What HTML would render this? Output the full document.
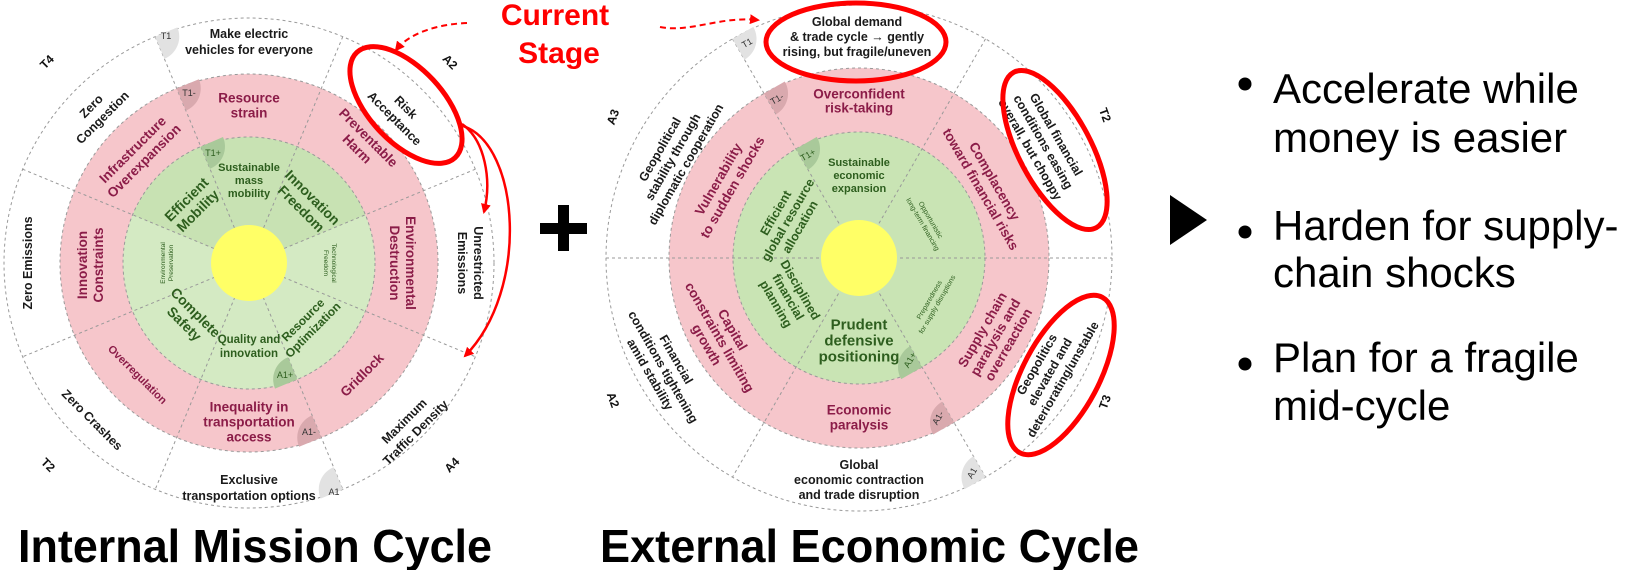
<!DOCTYPE html>
<html><head><meta charset="utf-8"><style>
html,body{margin:0;padding:0;background:#fff;}
svg{display:block;}
text{font-family:"Liberation Sans",Arial,sans-serif;}
.o{font-size:12.5px;font-weight:bold;fill:#1a1a1a;text-anchor:middle;dominant-baseline:central;}
.p{font-size:13.5px;font-weight:bold;fill:#8b1c48;text-anchor:middle;dominant-baseline:central;}
.g{font-size:11px;font-weight:bold;fill:#2d5e1e;text-anchor:middle;dominant-baseline:central;}
.gb{font-size:14px;font-weight:bold;fill:#2d5e1e;text-anchor:middle;dominant-baseline:central;}
.gt{font-size:6.5px;fill:#2d5e1e;text-anchor:middle;dominant-baseline:central;}
.b{font-size:9px;fill:#333;text-anchor:middle;dominant-baseline:central;}
.ax{font-size:12px;font-weight:bold;fill:#111;text-anchor:middle;dominant-baseline:central;}
.dl{stroke:#999;stroke-width:1;stroke-dasharray:3,3;fill:none;}
.bl{font-size:42px;fill:#000;}
</style></head><body>
<svg width="1647" height="570" viewBox="0 0 1647 570" xmlns="http://www.w3.org/2000/svg">
<defs>
<marker id="ah" markerWidth="10" markerHeight="10" refX="8" refY="5" orient="auto" markerUnits="userSpaceOnUse"><path d="M0,0 L10,5 L0,10 Z" fill="#f00"/></marker>
</defs>

<!-- ================= LEFT CIRCLE ================= -->
<circle cx="249" cy="263" r="245" fill="#fff" class="dl"/>
<circle cx="249" cy="263" r="189" fill="#f6c6cb"/>
<circle cx="249" cy="263" r="189" class="dl"/>
<circle cx="249" cy="263" r="126" fill="#d4eac3"/>
<path d="M249,263 L200.8,146.6 A126,126 0 0 1 297.2,146.6 Z" fill="#c8e2b3"/>
<path d="M249,263 L297.2,146.6 A126,126 0 0 1 365.4,214.8 Z" fill="#c8e2b3"/>
<path d="M249,263 L132.6,214.8 A126,126 0 0 1 200.8,146.6 Z" fill="#c8e2b3"/>
<circle cx="249" cy="263" r="126" class="dl"/>
<line x1="475.4" y1="169.2" x2="22.6" y2="356.8" class="dl"/>
<line x1="342.8" y1="36.6" x2="155.2" y2="489.4" class="dl"/>
<line x1="155.2" y1="36.6" x2="342.8" y2="489.4" class="dl"/>
<line x1="22.6" y1="169.2" x2="475.4" y2="356.8" class="dl"/>
<circle cx="249" cy="263" r="38" fill="#ffff66"/>

<path d="M155.2,36.6 L164.4,58.8 A24,24 0 0 0 177.4,27.4 Z" fill="#e2e2e2"/>
<path d="M176.7,88.4 L185.9,110.6 A24,24 0 0 0 198.9,79.2 Z" fill="#d9a9ae"/>
<path d="M200.8,146.6 L210,168.8 A24,24 0 0 0 223,137 Z" fill="#a9c99a"/>
<path d="M297.2,379.4 L288,357.2 A24,24 0 0 0 275,388.6 Z" fill="#a9c99a"/>
<path d="M321.3,437.6 L312.1,415.4 A24,24 0 0 0 299.1,446.8 Z" fill="#d9a9ae"/>
<path d="M342.8,489.4 L333.6,467.2 A24,24 0 0 0 320.6,498.6 Z" fill="#e2e2e2"/>
<text class="b" x="166" y="36">T1</text>
<text class="b" x="189" y="93">T1-</text>
<text class="b" x="213" y="153" style="fill:#2d5e1e">T1+</text>
<text class="b" x="285" y="375" style="fill:#2d5e1e">A1+</text>
<text class="b" x="309" y="432">A1-</text>
<text class="b" x="334" y="492">A1</text>

<text class="o" x="249" y="34">Make electric</text>
<text class="o" x="249" y="50">vehicles for everyone</text>
<text class="o" transform="translate(400,113) rotate(45)"><tspan x="0" y="-8">Risk</tspan><tspan x="0" y="8">Acceptance</tspan></text>
<text class="o" transform="translate(470,263) rotate(90)"><tspan x="0" y="-8">Unrestricted</tspan><tspan x="0" y="8">Emissions</tspan></text>
<text class="o" transform="translate(410,427) rotate(-45)"><tspan x="0" y="-8">Maximum</tspan><tspan x="0" y="8">Traffic Density</tspan></text>
<text class="o" x="249" y="480">Exclusive</text>
<text class="o" x="249" y="496">transportation options</text>
<text class="o" transform="translate(92,420) rotate(45)">Zero Crashes</text>
<text class="o" transform="translate(28,263) rotate(-90)">Zero Emissions</text>
<text class="o" transform="translate(97,112) rotate(-45)"><tspan x="0" y="-8">Zero</tspan><tspan x="0" y="8">Congestion</tspan></text>
<text class="ax" transform="translate(47,62) rotate(-45)">T4</text>
<text class="ax" transform="translate(450,62) rotate(45)">A2</text>
<text class="ax" transform="translate(48,465) rotate(45)">T2</text>
<text class="ax" transform="translate(452,465) rotate(-45)">A4</text>

<text class="p" x="249" y="98">Resource</text>
<text class="p" x="249" y="113">strain</text>
<text class="p" transform="translate(363,143) rotate(45)"><tspan x="0" y="-8">Preventable</tspan><tspan x="0" y="8">Harm</tspan></text>
<text class="p" transform="translate(403,263) rotate(90)"><tspan x="0" y="-8">Environmental</tspan><tspan x="0" y="8">Destruction</tspan></text>
<text class="p" transform="translate(362,375) rotate(-45)">Gridlock</text>
<text class="p" x="249" y="407">Inequality in</text>
<text class="p" x="249" y="422">transportation</text>
<text class="p" x="249" y="437">access</text>
<text class="p" transform="translate(137,375) rotate(45)" style="font-size:11px">Overregulation</text>
<text class="p" transform="translate(90,265) rotate(-90)"><tspan x="0" y="-8">Innovation</tspan><tspan x="0" y="8">Constraints</tspan></text>
<text class="p" transform="translate(138,155) rotate(-45)"><tspan x="0" y="-8">Infrastructure</tspan><tspan x="0" y="8">Overexpansion</tspan></text>

<text class="g" x="249" y="168">Sustainable</text>
<text class="g" x="249" y="181">mass</text>
<text class="g" x="249" y="194">mobility</text>
<text class="gb" transform="translate(307,203) rotate(45)"><tspan x="0" y="-8">Innovation</tspan><tspan x="0" y="8">Freedom</tspan></text>
<text class="gt" transform="translate(330,263) rotate(90)"><tspan x="0" y="-4">Technological</tspan><tspan x="0" y="4">Freedom</tspan></text>
<text class="g" transform="translate(308,325) rotate(-45)" style="font-size:12px"><tspan x="0" y="-7">Resource</tspan><tspan x="0" y="7">Optimization</tspan></text>
<text class="g" x="249" y="340" style="font-size:11.5px">Quality and</text>
<text class="g" x="249" y="354" style="font-size:11.5px">innovation</text>
<text class="gb" transform="translate(190,318) rotate(45)"><tspan x="0" y="-8">Complete</tspan><tspan x="0" y="8">Safety</tspan></text>
<text class="gt" transform="translate(167,263) rotate(-90)"><tspan x="0" y="-4">Environmental</tspan><tspan x="0" y="4">Preservation</tspan></text>
<text class="gb" transform="translate(192,205) rotate(-45)"><tspan x="0" y="-8">Efficient</tspan><tspan x="0" y="8">Mobility</tspan></text>

<!-- plus -->
<rect x="540" y="223" width="47" height="11" fill="#000"/>
<rect x="558" y="205" width="11" height="46" fill="#000"/>

<!-- ================= RIGHT CIRCLE ================= -->
<circle cx="859" cy="258" r="253" fill="#fff" class="dl"/>
<circle cx="859" cy="258" r="190" fill="#f6c6cb"/>
<circle cx="859" cy="258" r="190" class="dl"/>
<circle cx="859" cy="258" r="126" fill="#c9e4b4"/>
<circle cx="859" cy="258" r="126" class="dl"/>
<line x1="606" y1="258" x2="1112" y2="258" class="dl"/>
<line x1="985.5" y1="38.9" x2="732.5" y2="477.1" class="dl"/>
<line x1="732.5" y1="38.9" x2="985.5" y2="477.1" class="dl"/>
<circle cx="859" cy="258" r="38" fill="#ffff66"/>

<path d="M732.5,38.9 L744.5,59.7 A24,24 0 0 0 753.3,26.9 Z" fill="#e2e2e2"/>
<path d="M764,93.5 L776,114.3 A24,24 0 0 0 784.8,81.5 Z" fill="#d9a9ae"/>
<path d="M796,148.9 L808,169.7 A24,24 0 0 0 816.8,136.9 Z" fill="#a9c99a"/>
<path d="M922,367.1 L910,346.3 A24,24 0 0 0 901.2,379.1 Z" fill="#a9c99a"/>
<path d="M954,422.5 L942,401.7 A24,24 0 0 0 933.2,434.5 Z" fill="#d9a9ae"/>
<path d="M985.5,477.1 L973.5,456.3 A24,24 0 0 0 964.7,489.1 Z" fill="#e2e2e2"/>
<text class="b" transform="translate(747,43) rotate(-30)">T1</text>
<text class="b" transform="translate(777,99) rotate(-30)">T1-</text>
<text class="b" transform="translate(808,155) rotate(-30)" style="fill:#2d5e1e">T1+</text>
<text class="b" transform="translate(910,360) rotate(-60)" style="fill:#2d5e1e">A1+</text>
<text class="b" transform="translate(938,418) rotate(-60)">A1-</text>
<text class="b" transform="translate(972,473) rotate(-60)">A1</text>

<text class="o" x="857" y="22">Global demand</text>
<text class="o" x="857" y="37">&amp; trade cycle → gently</text>
<text class="o" x="857" y="52">rising, but fragile/uneven</text>
<text class="o" transform="translate(1043,142) rotate(60)"><tspan x="0" y="-15">Global financial</tspan><tspan x="0" y="0">conditions easing</tspan><tspan x="0" y="15">overall, but choppy</tspan></text>
<text class="o" transform="translate(1050,372) rotate(-60)"><tspan x="0" y="-15">Geopolitics</tspan><tspan x="0" y="0">elevated and</tspan><tspan x="0" y="15">deteriorating/unstable</tspan></text>
<text class="o" x="859" y="465">Global</text>
<text class="o" x="859" y="480">economic contraction</text>
<text class="o" x="859" y="495">and trade disruption</text>
<text class="o" transform="translate(663,367) rotate(60)"><tspan x="0" y="-15">Financial</tspan><tspan x="0" y="0">conditions tightening</tspan><tspan x="0" y="15">amid stability</tspan></text>
<text class="o" transform="translate(673,157) rotate(-60)"><tspan x="0" y="-15">Geopolitical</tspan><tspan x="0" y="0">stability through</tspan><tspan x="0" y="15">diplomatic cooperation</tspan></text>
<text class="ax" transform="translate(613,117) rotate(-70)">A3</text>
<text class="ax" transform="translate(613,400) rotate(70)">A2</text>
<text class="ax" transform="translate(1105,115) rotate(70)">T2</text>
<text class="ax" transform="translate(1105,402) rotate(-70)">T3</text>

<text class="p" x="859" y="94">Overconfident</text>
<text class="p" x="859" y="108">risk-taking</text>
<text class="p" transform="translate(988,185) rotate(60)"><tspan x="0" y="-8">Complacency</tspan><tspan x="0" y="8">toward financial risks</tspan></text>
<text class="p" transform="translate(995,337) rotate(-60)"><tspan x="0" y="-15">Supply chain</tspan><tspan x="0" y="0">paralysis and</tspan><tspan x="0" y="15">overreaction</tspan></text>
<text class="p" x="859" y="410">Economic</text>
<text class="p" x="859" y="425">paralysis</text>
<text class="p" transform="translate(720,337) rotate(60)"><tspan x="0" y="-15">Capital</tspan><tspan x="0" y="0">constraints limiting</tspan><tspan x="0" y="15">growth</tspan></text>
<text class="p" transform="translate(725,183) rotate(-60)"><tspan x="0" y="-8">Vulnerability</tspan><tspan x="0" y="8">to sudden shocks</tspan></text>

<text class="g" x="859" y="163">Sustainable</text>
<text class="g" x="859" y="176">economic</text>
<text class="g" x="859" y="189">expansion</text>
<text class="gt" transform="translate(927,222) rotate(60)" style="font-size:7px"><tspan x="0" y="-4">Opportunistic</tspan><tspan x="0" y="5">long-term financing</tspan></text>
<text class="gt" transform="translate(933,302) rotate(-60)" style="font-size:7px"><tspan x="0" y="-4">Preparedness</tspan><tspan x="0" y="5">for supply disruptions</tspan></text>
<text class="gb" x="859" y="325" style="font-size:15px">Prudent</text>
<text class="gb" x="859" y="341" style="font-size:15px">defensive</text>
<text class="gb" x="859" y="357" style="font-size:15px">positioning</text>
<text class="g" transform="translate(788,297) rotate(60)" style="font-size:12.5px"><tspan x="0" y="-14">Disciplined</tspan><tspan x="0" y="0">financial</tspan><tspan x="0" y="14">planning</tspan></text>
<text class="g" transform="translate(788,220) rotate(-60)" style="font-size:12.5px"><tspan x="0" y="-14">Efficient</tspan><tspan x="0" y="0">global resource</tspan><tspan x="0" y="14">allocation</tspan></text>

<!-- ================= RED ANNOTATIONS ================= -->
<text x="555" y="25" text-anchor="middle" style="font-size:30px;font-weight:bold;fill:#f00">Current</text>
<text x="559" y="63" text-anchor="middle" style="font-size:30px;font-weight:bold;fill:#f00">Stage</text>
<path d="M467,23 C440,24 410,32 396,50" fill="none" stroke="#f00" stroke-width="2" stroke-dasharray="6,4" marker-end="url(#ah)"/>
<path d="M660,27 C690,33 720,16 758,20" fill="none" stroke="#f00" stroke-width="2" stroke-dasharray="6,4" marker-end="url(#ah)"/>
<ellipse cx="406" cy="105" rx="72" ry="37" transform="rotate(47 406 105)" fill="none" stroke="#f00" stroke-width="5"/>
<path d="M462,124 C485,140 492,180 484,212" fill="none" stroke="#f00" stroke-width="2.5" marker-end="url(#ah)"/>
<path d="M463,126 C520,145 530,290 465,356" fill="none" stroke="#f00" stroke-width="2.5" marker-end="url(#ah)"/>
<ellipse cx="856" cy="42" rx="90" ry="39" fill="none" stroke="#f00" stroke-width="5"/>
<ellipse cx="1055" cy="150" rx="88" ry="36" transform="rotate(62 1055 150)" fill="none" stroke="#f00" stroke-width="5"/>
<ellipse cx="1061" cy="375" rx="88" ry="38" transform="rotate(-62 1061 375)" fill="none" stroke="#f00" stroke-width="5"/>

<!-- ================= TITLES ================= -->
<text x="18" y="562" textLength="474" lengthAdjust="spacingAndGlyphs" style="font-size:46px;font-weight:bold;fill:#000">Internal Mission Cycle</text>
<text x="600" y="562" textLength="539" lengthAdjust="spacingAndGlyphs" style="font-size:46px;font-weight:bold;fill:#000">External Economic Cycle</text>

<!-- ================= BULLETS ================= -->
<path d="M1170,195 L1207,220 L1170,245 Z" fill="#000"/>
<circle cx="1245" cy="84" r="6.5" fill="#000"/>
<circle cx="1245" cy="232" r="6.5" fill="#000"/>
<circle cx="1245" cy="364" r="6.5" fill="#000"/>
<text class="bl" x="1273" y="103">Accelerate while</text>
<text class="bl" x="1273" y="152">money is easier</text>
<text class="bl" x="1273" y="240">Harden for supply-</text>
<text class="bl" x="1273" y="287">chain shocks</text>
<text class="bl" x="1273" y="372">Plan for a fragile</text>
<text class="bl" x="1273" y="420">mid-cycle</text>
</svg>
</body></html>
